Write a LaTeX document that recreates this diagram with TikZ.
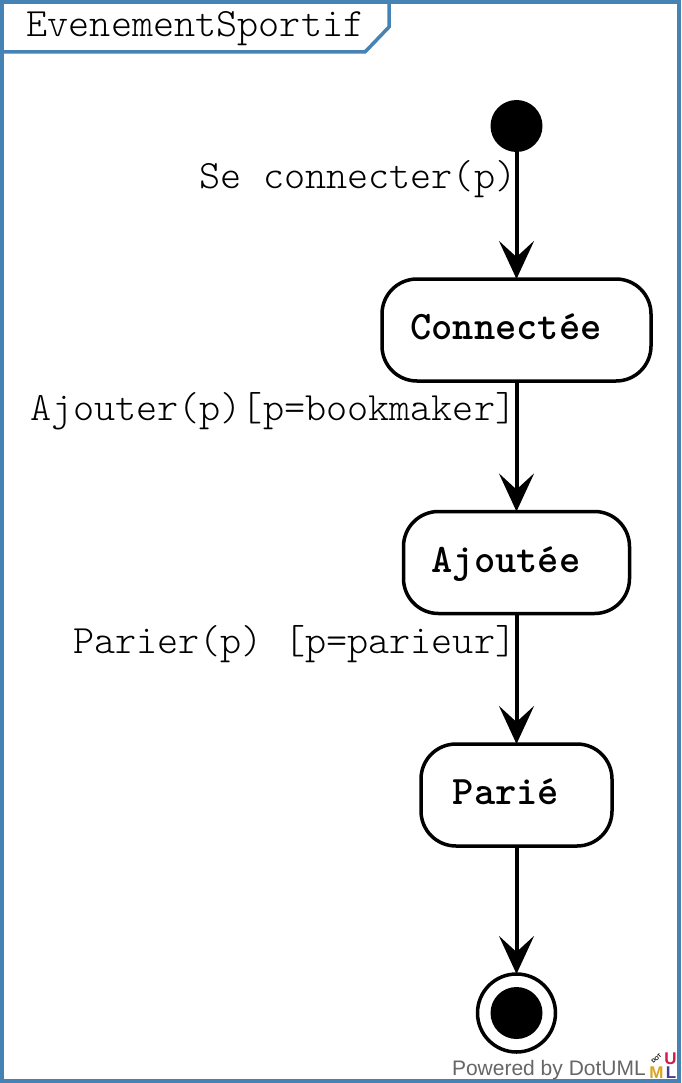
\documentclass[tikz,border=0pt]{standalone}
\usepackage{fontspec}
\usepackage{tikz}
\usetikzlibrary{arrows.meta}
\setsansfont{Liberation Sans}
\definecolor{framecol}{HTML}{4682B4}
\definecolor{logoyellow}{HTML}{D9A520}
\definecolor{logored}{HTML}{D01C4B}
\definecolor{logoblue}{HTML}{403F95}
\newcommand{\umlfont}{\ttfamily\fontsize{40.2}{44}\fontseries{l}\selectfont}
\newcommand{\statefont}{\ttfamily\bfseries\fontsize{40.5}{44}\selectfont}
\tikzset{
  statebox/.style={draw, line width=3.5pt, rounded corners=35pt, fill=white, outer sep=0pt, minimum height=102pt, text height=24pt, text depth=5pt, font=\statefont},
  startdot/.style={circle, fill=black, minimum size=52pt, inner sep=0pt, outer sep=0pt},
  enddot/.style={circle, draw, line width=3.5pt, fill=white, minimum size=78pt, inner sep=0pt, outer sep=0pt},
  trans/.style={-{Stealth[length=38pt, width=35pt, inset=16pt]}, line width=4pt},
  translabel/.style={anchor=east, inner sep=0pt, text=black, font=\umlfont},
  logoletter/.style={inner sep=0pt, font=\sffamily\bfseries\fontsize{17}{17}\selectfont}
}
\begin{document}
\begin{tikzpicture}[x=1pt, y=-1pt]
    \useasboundingbox (0,0) rectangle (681,1083);
    % Define the frame
    \draw[framecol, line width=3.5pt, fill=white] (2,2) rectangle (679,1081);
    \draw[framecol, line width=3.5pt] (2,52) -- (365,52) -- (389,27) -- (389,2);
    \node[inner sep=0pt, text=black, font=\umlfont] (title) at (195.5,29) {EvenementSportif};

    % Define the states
    \node[startdot] (init) at (516.5,126) {};
    \node[statebox, minimum width=269pt] (connectee) at (516.5,330) {Connectée\kern21pt};
    \node[statebox, minimum width=226pt] (ajoutee) at (516.5,562.5) {Ajoutée\kern21pt};
    \node[statebox, minimum width=191pt] (parie) at (516.5,795) {Parié\kern21pt};
    \node[enddot] (final) at (516.5,1013) {};
    \node[startdot] (finaldot) at (516.5,1013) {};

    % Define the transitions
    \draw[trans] (init) -- (connectee);
    \draw[trans] (connectee) -- (ajoutee);
    \draw[trans] (ajoutee) -- (parie);
    \draw[trans] (parie) -- (final);

    % Define the labels
    \node[translabel] (lblconnect) at (516.5,179) {Se connecter(p)};
    \node[translabel] (lblajouter) at (516.5,411) {Ajouter(p)[p=bookmaker]};
    \node[translabel] (lblparier) at (516.5,644) {Parier(p) [p=parieur]};

    % Define the logo
    \node[anchor=east, inner sep=0pt, text=black!60, font=\sffamily\fontsize{21}{24}\selectfont] (powered) at (646,1070) {Powered by DotUML};
    \node[logoletter, text=logoyellow] (logom) at (656.5,1072.5) {M};
    \node[logoletter, text=logored] (logou) at (670.5,1058.5) {U};
    \node[logoletter, text=logoblue] (logol) at (671,1072.5) {L};
    \node[inner sep=0pt, rotate=45, font=\sffamily\bfseries\fontsize{5.5}{5.5}\selectfont] (logodot) at (656.5,1058.5) {DOT};
\end{tikzpicture}
\end{document}
